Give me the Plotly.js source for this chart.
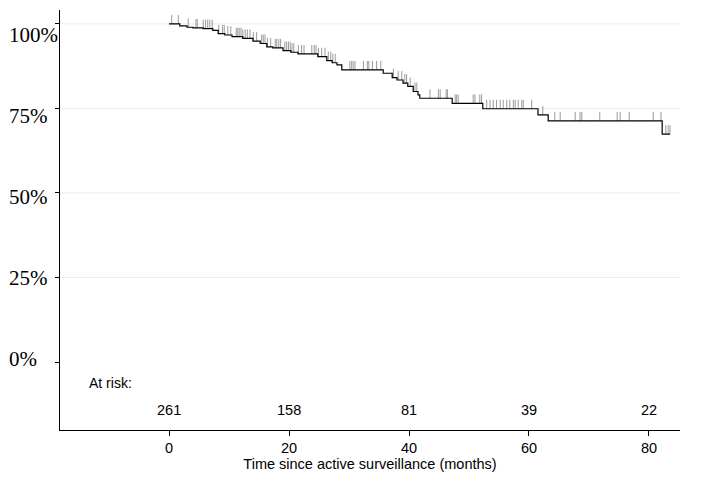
<!DOCTYPE html>
<html>
<head>
<meta charset="utf-8">
<script src="https://cdn.plot.ly/plotly-3.0.1.min.js"></script>
<style>html,body{margin:0;padding:0;background:#fff;}#chart{width:707px;height:500px;}</style>
</head>
<body>
<div id="chart"></div>
<script>
// Kaplan-Meier step curve (months, % surviving)
const kmTime = [0, 1.8, 3.0, 4.0, 5.7, 7.3, 8.2, 9.3, 10.5, 12.3, 14.0, 15.2, 16.3, 17.3, 19.0, 20.3, 21.5, 24.8, 26.3, 27.2, 28.0, 28.8, 35.7, 37.2, 38.0, 39.0, 39.8, 40.7, 41.5, 41.8, 47.2, 52.3, 61.5, 63.2, 82.2, 83.5];
const kmSurv = [100, 99.4, 99.0, 98.8, 98.6, 98.1, 97.1, 96.7, 96.2, 95.7, 94.9, 94.2, 93.2, 92.9, 92.1, 91.6, 91.1, 90.3, 89.1, 88.5, 87.9, 86.4, 85.4, 84.1, 83.4, 82.5, 81.5, 80.0, 79.0, 78.0, 76.5, 74.9, 73.1, 71.3, 67.4, 67.4];

// censoring times (months)
const censorTime = [0.45, 1.55, 3.2, 4.5, 4.7, 5.7, 6.1, 6.45, 6.8, 7.2, 8.3, 8.9, 9.2, 9.8, 10.3, 11.2, 11.45, 11.7, 12.0, 12.3, 12.7, 13.05, 13.5, 14.05, 14.6, 15.45, 15.7, 16.0, 16.4, 16.95, 17.7, 17.95, 18.3, 18.6, 19.3, 19.6, 19.9, 20.2, 20.5, 20.8, 21.55, 22.1, 22.5, 23.8, 24.2, 24.5, 24.9, 25.45, 26.0, 26.55, 26.95, 27.3, 27.7, 30.15, 30.45, 30.7, 31.0, 32.4, 33.05, 33.3, 33.9, 34.6, 35.3, 37.4, 38.2, 38.8, 39.3, 39.6, 40.2, 41.0, 41.3, 43.5, 44.9, 45.2, 46.2, 46.4, 47.7, 47.95, 48.2, 50.7, 51.0, 51.8, 52.1, 52.95, 53.5, 54.05, 54.6, 55.2, 55.7, 56.3, 56.8, 57.4, 57.7, 58.2, 58.8, 59.05, 60.45, 62.3, 64.3, 65.2, 67.7, 68.5, 68.8, 71.8, 74.7, 75.2, 76.7, 80.7, 82.0, 82.8, 83.2, 83.5];

const yTickVals = [0, 25, 50, 75, 100];
const yTickText = ['0%', '25%', '50%', '75%', '100%'];
const yGridVals = [25, 50, 75, 100];
const xTickVals = [0, 20, 40, 60, 80];
const atRiskTime = [0, 20, 40, 60, 80];
const atRiskN = [261, 158, 81, 39, 22];
const atRiskLabel = 'At risk:';
const xTitle = 'Time since active surveillance (months)';

function survAt(t) {
  let s = kmSurv[0];
  for (let i = 0; i < kmTime.length; i++) { if (kmTime[i] <= t) s = kmSurv[i]; }
  return s;
}
const tickLift = 1.3; // half of censor mark height in % units
const censorY = censorTime.map(t => survAt(t) + tickLift);

const serif = 'Liberation Serif, Times New Roman, serif';
const sans = 'Liberation Sans, Arial, sans-serif';

const traces = [
  {
    x: censorTime, y: censorY, type: 'scatter', mode: 'markers', hoverinfo: 'skip',
    marker: { symbol: 'line-ns', size: 6.5, color: '#9a9a9a', line: { color: '#9a9a9a', width: 1 } }
  },
  {
    x: kmTime, y: kmSurv, type: 'scatter', mode: 'lines',
    line: { shape: 'hv', color: '#000', width: 1.2 }
  }
];

const annotations = [];
yTickVals.forEach((v, i) => annotations.push({
  xref: 'paper', yref: 'y', x: -0.0855, y: v, xanchor: 'left', yanchor: 'middle',
  yshift: 3 - 0.14 * v, text: yTickText[i], showarrow: false, font: { family: serif, size: 21, color: '#000' }
}));
annotations.push({
  xref: 'paper', yref: 'paper', x: 0.043, y: 0.112, xanchor: 'left', yanchor: 'middle',
  text: atRiskLabel, showarrow: false, font: { family: sans, size: 14, color: '#000' }
});
atRiskTime.forEach((t, i) => annotations.push({
  xref: 'x', yref: 'paper', x: t, y: 0.0476, xanchor: 'center', yanchor: 'middle',
  text: String(atRiskN[i]), showarrow: false, font: { family: sans, size: 14.5, color: '#000' }
}));

const shapes = yGridVals.map(v => ({
  type: 'line', xref: 'paper', yref: 'y', x0: 0, x1: 1, y0: v, y1: v, layer: 'below',
  line: { color: '#ececec', width: 1 }
}));

const layout = {
  width: 707, height: 500,
  margin: { l: 60, r: 27, t: 10, b: 70 },
  paper_bgcolor: '#fff', plot_bgcolor: '#fff',
  showlegend: false,
  xaxis: {
    range: [-18.17, 85.17], tickvals: xTickVals, ticktext: xTickVals.map(String),
    showgrid: false, zeroline: false, showline: true, linecolor: '#000', linewidth: 1,
    ticks: 'outside', ticklen: 5, tickcolor: '#000', tickwidth: 1,
    tickfont: { family: sans, size: 14.5, color: '#000' },
    title: { text: xTitle, font: { family: sans, size: 14.5, color: '#000' }, standoff: 0 }
  },
  yaxis: {
    range: [-20.1, 104.1], tickvals: yTickVals, showticklabels: false,
    showgrid: false, zeroline: false,
    showline: true, linecolor: '#000', linewidth: 1,
    ticks: 'outside', ticklen: 4, tickcolor: '#000', tickwidth: 1
  },
  shapes: shapes,
  annotations: annotations
};

Plotly.newPlot('chart', traces, layout, { displayModeBar: false, staticPlot: true });
</script>
</body>
</html>
